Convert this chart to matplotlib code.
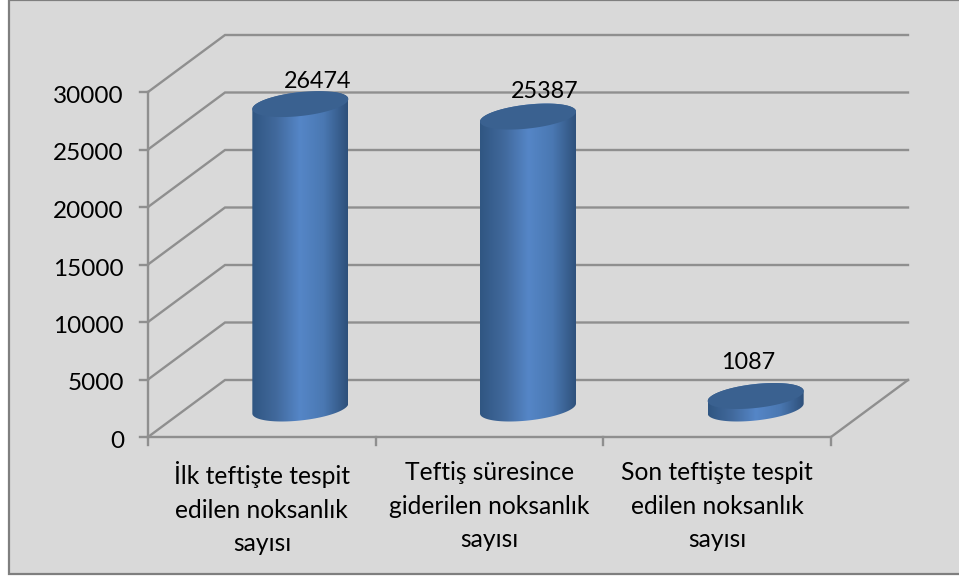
"""3D-look cylinder chart of inspection deficiency counts. Saves out.png"""
import numpy as np
import matplotlib.pyplot as plt
from matplotlib.colors import LinearSegmentedColormap
from matplotlib.patches import PathPatch, Rectangle
from matplotlib.path import Path

categories = ['İlk teftişte tespit\nedilen noksanlık\nsayısı',
              'Teftiş süresince\ngiderilen noksanlık\nsayısı',
              'Son teftişte tespit\nedilen noksanlık\nsayısı']
values = [26474, 25387, 1087]
y_ticks = [0, 5000, 10000, 15000, 20000, 25000, 30000]

plt.rcParams['font.family'] = ['Lato', 'DejaVu Sans']

W, H = 959, 576
fig = plt.figure(figsize=(W/100, H/100), dpi=100, facecolor='white')
fig.patches.append(Rectangle((9/W, 1-574/H), 970/W, 574/H, transform=fig.transFigure,
                             facecolor='#d9d9d9', edgecolor='#7f7f7f', linewidth=1.6, zorder=-1))

# axes = front plane of the 3D box, depth is added by hand in pixels
left, right, top, bottom = 148, 831, 92, 437
ax = fig.add_axes([left/W, 1-bottom/H, (right-left)/W, (bottom-top)/H])
ax.set_xlim(0, 3); ax.set_ylim(0, 30000)
ax.patch.set_visible(False)
ax.axis('off')
px = 3/(right-left)          # x data units per pixel
py = 30000/(bottom-top)      # y data units per pixel
dx, dy = 77*px, 57*py        # depth of the box

grid = '#8f8f8f'
for t in y_ticks:
    ax.plot([0, dx, 3+dx], [t, t+dy, t+dy], color=grid, lw=1.7,
            clip_on=False, zorder=1, solid_joinstyle='miter')
    ax.plot([-8*px, 0], [t, t], color=grid, lw=1.7, clip_on=False, zorder=1)
    ax.text(-24*px, t-4.5*py, str(t), ha='right', va='center', fontsize=17.5, color='black', clip_on=False)
ax.plot([0, 0], [0, 30000], color=grid, lw=1.7, clip_on=False, zorder=1)
ax.plot([0, 3, 3+dx], [0, 0, dy], color=grid, lw=1.7, clip_on=False, zorder=1)
for i in range(4):
    ax.plot([i, i], [0, -8*py], color=grid, lw=1.7, clip_on=False, zorder=1)

# cylinders
cmap = LinearSegmentedColormap.from_list('cyl', ['#305682', '#41699c', '#5586c7', '#4a78b2', '#2e507a'])
grad = np.linspace(0, 1, 256).reshape(1, -1)
a, b, k = 48*px, 12*py, 5*py
tt = np.linspace(0, 2*np.pi, 121)


def ellipse(cx, cy):
    return np.column_stack([cx + a*np.cos(tt), cy + b*np.sin(tt) + k*np.cos(tt)])


label_offsets = [(17, 23), (17, 25), (-7, 33)]
base = 0.5*dy
for i, (v, off) in enumerate(zip(values, label_offsets)):
    cx = i + 0.5 + 0.5*dx
    lower, upper = ellipse(cx, base), ellipse(cx, base+v)
    # body outline: lower half of the base ellipse, up the side, back over the top
    side = np.vstack([upper[:61], lower[60:121]])
    clip = PathPatch(Path(np.vstack([side, side[:1]])), transform=ax.transData,
                     facecolor='none', edgecolor='none')
    ax.add_patch(clip)
    im = ax.imshow(grad, extent=[cx-a, cx+a, base-20*py, base+v+20*py], aspect='auto',
                   cmap=cmap, zorder=2)
    im.set_clip_path(clip)
    ax.fill(*upper.T, color='#3a6190', lw=0, zorder=3, clip_on=False)
    ax.annotate(str(v), (cx, base+v), xytext=off, textcoords='offset pixels', ha='center', va='center',
                fontsize=16.8, color='black', annotation_clip=False, zorder=4)
ax.set_xlim(0, 3); ax.set_ylim(0, 30000)

for i, c in enumerate(categories):
    ax.text(i+0.5, -24*py, c, ha='center', va='top', fontsize=17.7, color='black',
            linespacing=1.56, clip_on=False)

fig.savefig('out.png', dpi=100)
plt.close(fig)
